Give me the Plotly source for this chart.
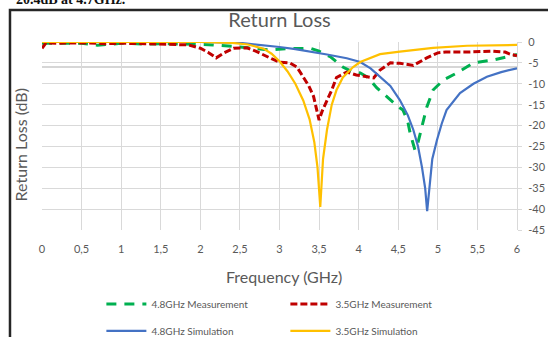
import plotly.graph_objects as go

# ---------------- data ----------------
meas48_f = [0, 0.3, 0.5, 0.7, 1.0, 1.3, 1.6, 2.0, 2.16, 2.5, 2.88, 3.1, 3.39, 3.5, 3.64, 3.8, 3.93, 4.02, 4.12, 4.23, 4.4, 4.5, 4.56, 4.62, 4.65, 4.71, 4.75, 4.8, 4.86, 4.94, 5.07, 5.24, 5.45, 5.7, 5.95, 6.0]
meas48_db = [-0.3, -0.3, -0.3, -0.8, -0.3, -0.5, -0.4, -0.6, -0.7, -1.2, -1.9, -1.6, -1.5, -2.2, -3.5, -6.0, -7.2, -7.4, -8.5, -11.0, -13.9, -15.5, -16.3, -19.0, -21.8, -25.8, -24.0, -20.3, -15.6, -11.5, -9.1, -7.4, -5.0, -4.3, -3.1, -3.0]

meas35_f = [0, 0.05, 0.2, 0.5, 0.8, 1.0, 1.3, 1.5, 1.7, 1.85, 2.0, 2.1, 2.2, 2.3, 2.42, 2.59, 2.7, 2.79, 2.9, 3.0, 3.13, 3.22, 3.3, 3.37, 3.43, 3.47, 3.5, 3.54, 3.6, 3.66, 3.72, 3.85, 3.97, 4.1, 4.19, 4.27, 4.4, 4.52, 4.69, 4.86, 5.0, 5.1, 5.37, 5.7, 5.85, 5.91, 6.0]
meas35_db = [-1.5, -0.2, -0.3, -0.2, -0.4, -0.3, -0.4, -0.5, -0.5, -0.7, -1.5, -2.5, -3.8, -2.6, -1.5, -1.4, -2.2, -3.1, -4.0, -4.8, -5.0, -6.0, -8.3, -10.5, -13.0, -16.0, -18.7, -16.5, -14.0, -11.5, -8.5, -7.2, -7.9, -8.3, -8.6, -6.7, -5.0, -5.1, -5.6, -3.8, -2.6, -2.4, -2.4, -2.2, -2.4, -2.9, -3.3]

sim48_f = [0, 0.5, 1.0, 1.5, 2.0, 2.5, 2.8, 3.0, 3.2, 3.43, 3.6, 3.85, 4.02, 4.15, 4.27, 4.4, 4.52, 4.62, 4.69, 4.75, 4.8, 4.84, 4.865, 4.89, 4.93, 4.99, 5.05, 5.11, 5.2, 5.28, 5.45, 5.62, 5.8, 6.0]
sim48_db = [0, 0, 0, 0, 0, -0.2, -0.7, -1.2, -1.7, -2.4, -3.0, -3.9, -4.8, -6.3, -8.3, -10.5, -13.9, -17.5, -21.0, -25.0, -30.0, -35.0, -40.5, -35.0, -28.0, -23.4, -19.5, -16.3, -14.0, -12.2, -10.0, -8.3, -7.2, -6.3]

sim35_f = [0, 0.5, 1.0, 1.5, 2.0, 2.4, 2.6, 2.8, 2.9, 3.0, 3.1, 3.2, 3.3, 3.38, 3.44, 3.48, 3.515, 3.55, 3.6, 3.66, 3.72, 3.8, 3.93, 4.02, 4.27, 4.52, 4.94, 5.37, 6.0]
sim35_db = [0, 0, 0, 0, 0, -0.2, -0.6, -1.6, -2.8, -4.6, -7.0, -10.0, -14.0, -18.5, -24.0, -30.0, -39.5, -28.0, -21.0, -15.0, -11.5, -8.5, -6.0, -4.8, -2.9, -2.3, -1.4, -0.9, -0.7]

series_names = ["4.8GHz Measurement", "3.5GHz Measurement", "4.8GHz Simulation", "3.5GHz Simulation"]

x_tickvals = [0, 0.5, 1, 1.5, 2, 2.5, 3, 3.5, 4, 4.5, 5, 5.5, 6]
x_ticktext = ["0", "0,5", "1", "1,5", "2", "2,5", "3", "3,5", "4", "4,5", "5", "5,5", "6"]
y_tickvals = [0, -5, -10, -15, -20, -25, -30, -35, -40, -45]
y_ticktext = ["0", "-5", "-10", "-15", "-20", "-25", "-30", "-35", "-40", "-45"]

ref_level = -6

title_text = "Return Loss"
x_title = "Frequency (GHz)"
y_title = "Return Loss (dB)"
caption_text = "20.4dB at 4.7GHz."

# ---------------- figure ----------------
FONT = "Lato, 'Open Sans', sans-serif"
GRAY = "#595959"

fig = go.Figure()
fig.add_trace(go.Scatter(x=meas48_f, y=meas48_db, mode="lines", name=series_names[0],
                         line=dict(color="#00b050", width=3, dash="10px,8px"), legend="legend"))
fig.add_trace(go.Scatter(x=meas35_f, y=meas35_db, mode="lines", name=series_names[1],
                         line=dict(color="#c00000", width=3, dash="7px,3px"), legend="legend"))
fig.add_trace(go.Scatter(x=sim48_f, y=sim48_db, mode="lines", name=series_names[2],
                         line=dict(color="#4472c4", width=2.2), legend="legend2"))
fig.add_trace(go.Scatter(x=sim35_f, y=sim35_db, mode="lines", name=series_names[3],
                         line=dict(color="#ffc000", width=2.2), legend="legend2"))

legend_common = dict(orientation="h", x=0.125, xanchor="left", yanchor="middle",
                     entrywidth=129, entrywidthmode="pixels", font=dict(size=10, color=GRAY, family=FONT),
                     bgcolor="rgba(0,0,0,0)", itemwidth=40)

fig.update_layout(
    width=548, height=337,
    margin=dict(l=42, r=31, t=42, b=107, autoexpand=False),
    paper_bgcolor="white", plot_bgcolor="white",
    font=dict(family=FONT, color=GRAY, size=11),
    title=dict(text=title_text, x=0.51, xanchor="center", y=0.94, yanchor="middle",
               font=dict(size=20, color=GRAY, family=FONT)),
    showlegend=True,
    legend=dict(y=-0.394, **legend_common),
    legend2=dict(y=-0.537, **legend_common),
)

fig.update_xaxes(range=[0, 6], tickvals=x_tickvals, ticktext=x_ticktext,
                 showgrid=True, gridcolor="#d9d9d9", gridwidth=1,
                 zeroline=False, showline=False,
                 ticks="outside", ticklen=9, tickcolor="rgba(0,0,0,0)",
                 tickfont=dict(size=11, color=GRAY))
fig.update_yaxes(range=[-45, 0], side="right", tickvals=y_tickvals, ticktext=y_ticktext,
                 showgrid=True, gridcolor="#d9d9d9", gridwidth=1,
                 zeroline=False, showline=True, linecolor="#d9d9d9", linewidth=1,
                 ticks="outside", ticklen=4, tickcolor="#d9d9d9",
                 ticklabelstandoff=4,
                 tickfont=dict(size=11, color=GRAY))

# reference level line
fig.add_shape(type="line", xref="paper", x0=0, x1=1, yref="y", y0=ref_level, y1=ref_level,
              line=dict(color="#c8c8c8", width=1.5), layer="below")

# outer frame of the chart
fig.add_shape(type="rect", xref="paper", yref="paper",
              x0=-0.0674, x1=1.2, y0=-0.65, y1=1.17,
              line=dict(color="#262626", width=2.5), fillcolor="rgba(0,0,0,0)")

# axis titles
fig.add_annotation(text=y_title, xref="paper", yref="paper", x=0, y=0.45,
                   xanchor="center", yanchor="middle", xshift=-22, textangle=-90,
                   showarrow=False, font=dict(size=16, color=GRAY, family=FONT))
fig.add_annotation(text=x_title, xref="paper", yref="paper", x=0.51, y=0,
                   xanchor="center", yanchor="middle", yshift=-46,
                   showarrow=False, font=dict(size=16, color=GRAY, family=FONT))
# cut-off caption above the chart
fig.add_annotation(text="<b>" + caption_text + "</b>", xref="paper", yref="paper", x=-0.06, y=1,
                   xanchor="left", yanchor="bottom", yshift=33,
                   showarrow=False, font=dict(size=14, color="#111111", family="Liberation Serif"))

fig.write_html("out.html", config={"displayModeBar": False},
               post_script="document.body.style.margin='0px';")
